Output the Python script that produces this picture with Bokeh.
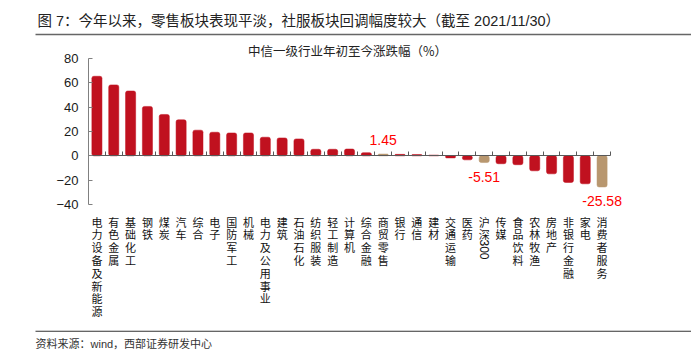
import math
from bokeh.plotting import figure
from bokeh.models import (Range1d, FixedTicker, LinearAxis, Label, LabelSet,
                          ColumnDataSource, BoxAnnotation)
from bokeh.core.properties import value
from bokeh.embed import file_html
from bokeh.resources import INLINE

categories = ["电力设备及新能源", "有色金属", "基础化工", "钢铁", "煤炭", "汽车", "综合",
              "电子", "国防军工", "机械", "电力及公用事业", "建筑", "石油石化", "纺织服装",
              "轻工制造", "计算机", "综合金融", "商贸零售", "银行", "通信", "建材",
              "交通运输", "医药", "沪深300", "传媒", "食品饮料", "农林牧渔", "房地产",
              "非银行金融", "家电", "消费者服务"]
values = [65.4, 58.3, 53.3, 40.6, 34.0, 29.6, 21.1, 19.4, 18.8, 18.8, 15.3, 14.7, 13.9,
          5.4, 5.4, 5.6, 2.6, 1.45, 1.2, 1.1, 0.6, -1.7, -3.3, -5.51, -6.5, -7.3, -12.3,
          -14.8, -21.9, -23.0, -25.58]
highlight = ["商贸零售", "沪深300", "消费者服务"]
y_ticks = [-40, -20, 0, 20, 40, 60, 80]
y_min, y_max = -40, 80

title_text = "图 7：今年以来，零售板块表现平淡，社服板块回调幅度较大（截至 2021/11/30）"
subtitle_text = "中信一级行业年初至今涨跌幅（%）"
source_text = "资料来源：wind，西部证券研发中心"

RED = "#C0111F"
TAN = "#B8976F"
CJK = "Noto Sans CJK SC"
MIX = "Liberation Sans, Noto Sans CJK SC"
LAT = "Liberation Sans"

W, H = 691, 355
# plot area in pixels (left, right, top, bottom)
FL, FR, FT, FB = 88, 610, 58, 204

n = len(categories)
xs = list(range(n))
colors = [TAN if c in highlight else RED for c in categories]
src = ColumnDataSource(dict(x=xs, top=values, color=colors))

kx = (FR - FL) / n
ky = (FB - FT) / (y_max - y_min)
x_range = Range1d(-0.5 - FL / kx, n - 0.5 + (W - FR) / kx)
y_range = Range1d(y_min - (H - FB) / ky, y_max + FT / ky)

p = figure(width=W, height=H, output_backend="svg", toolbar_location=None,
           x_range=x_range, y_range=y_range, x_axis_type=None, y_axis_type=None,
           min_border=0)
p.outline_line_color = None
p.background_fill_color = "white"
p.border_fill_color = "white"

yaxis = LinearAxis(fixed_location=-0.5, bounds=(y_min, y_max),
                   ticker=FixedTicker(ticks=y_ticks), major_tick_in=4, major_tick_out=0,
                   minor_tick_line_color=None, axis_line_color="#808080",
                   major_tick_line_color="#808080", major_label_text_font=LAT,
                   major_label_text_font_size="13px", major_label_text_color="#1a1a1a",
                   major_label_standoff=10)
p.add_layout(yaxis, "left")

overrides = {}
for i, c in enumerate(categories):
    if c == "沪深300":
        overrides[i] = "\n".join("沪深")
    else:
        overrides[i] = "\n".join(c)
xaxis = LinearAxis(fixed_location=y_min, ticker=FixedTicker(ticks=xs),
                   major_label_overrides=overrides,
                   axis_line_color=None, major_tick_line_color=None,
                   minor_tick_line_color=None, major_tick_out=0, major_tick_in=0,
                   major_label_standoff=9, major_label_text_font=CJK,
                   major_label_text_font_size="11px", major_label_text_line_height=0.8,
                   major_label_text_color="#111111")
p.add_layout(xaxis, "below")

zaxis = LinearAxis(fixed_location=0, bounds=(-0.5, n - 0.5),
                   ticker=FixedTicker(ticks=[i - 0.5 for i in range(n + 1)]),
                   major_tick_in=4, major_tick_out=0, minor_tick_line_color=None,
                   axis_line_color="#595959", major_tick_line_color="#595959",
                   major_label_text_font_size="0px", major_label_text_color=None)
p.add_layout(zaxis, "below")

p.vbar(x="x", top="top", bottom=0, width=0.6, fill_color="color", line_color="color",
       line_width=0.5, border_radius=2, source=src)

hi = [i for i, c in enumerate(categories) if c in highlight]
lab_src = ColumnDataSource(dict(
    x=[xs[i] for i in hi], y=[values[i] for i in hi],
    text=["%.2f" % values[i] for i in hi],
    yoff=[14 if values[i] > 0 else -14.5 for i in hi]))
p.add_layout(LabelSet(x="x", y="y", text="text", y_offset="yoff", source=lab_src,
                      text_align="center", text_baseline="middle",
                      text_color=value("#FF0000"), text_font=value(LAT),
                      text_font_size=value("14px")))

hs = categories.index("沪深300")
p.add_layout(Label(x=xs[hs], y=y_min, y_offset=-45, text="300", angle=-math.pi / 2,
                   text_align="center", text_baseline="middle", text_font=LAT,
                   text_font_size="12px", text_color="#111111"))

p.add_layout(Label(x=37, y=H - 20, x_units="screen", y_units="screen", text=title_text,
                   text_font=MIX, text_font_size="14.5px", text_baseline="middle",
                   text_color="#222222"))
p.add_layout(Label(x=347, y=H - 50, x_units="screen", y_units="screen", text=subtitle_text,
                   text_font=CJK, text_font_size="12.5px", text_baseline="middle",
                   text_align="center", text_color="#222222"))
p.add_layout(Label(x=35, y=H - 343, x_units="screen", y_units="screen", text=source_text,
                   text_font=MIX, text_font_size="11px", text_baseline="middle",
                   text_color="#333333"))

p.add_layout(BoxAnnotation(left=35, right=W, top=H - 33.2, bottom=H - 34.8,
                           left_units="screen", right_units="screen",
                           top_units="screen", bottom_units="screen",
                           fill_color="#666666", fill_alpha=1, line_color=None))
p.add_layout(BoxAnnotation(left=35, right=W, top=H - 330.2, bottom=H - 331.2,
                           left_units="screen", right_units="screen",
                           top_units="screen", bottom_units="screen",
                           fill_color="#333333", fill_alpha=1, line_color=None))

open("out.html", "w").write(file_html(p, INLINE))
